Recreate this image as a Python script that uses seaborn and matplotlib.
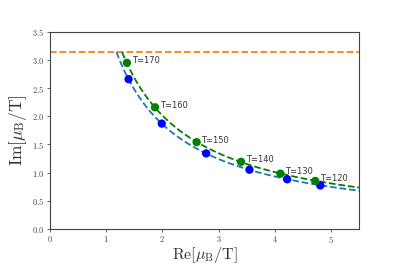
import numpy as np
import pandas as pd
import seaborn as sns
import matplotlib.pyplot as plt
from matplotlib.ticker import FuncFormatter

# values
temps = [170, 160, 150, 140, 130, 120]
re_green = [1.37, 1.87, 2.61, 3.40, 4.10, 4.72]
im_green = [2.95, 2.16, 1.54, 1.19, 0.98, 0.85]
re_blue = [1.40, 1.99, 2.78, 3.55, 4.22, 4.81]
im_blue = [2.66, 1.87, 1.34, 1.05, 0.88, 0.77]
im_limit = np.pi
x_max = 5.5

sns.set_style("ticks")
plt.rcParams['mathtext.fontset'] = 'cm'
plt.rcParams['font.family'] = ['DejaVu Sans']

green = pd.DataFrame({'re': re_green, 'im': im_green, 'T': temps})
blue = pd.DataFrame({'re': re_blue, 'im': im_blue, 'T': temps})

# fitted curves Im = c / Re, c taken from the points
def hyper_fit(df):
    c = np.mean(df['re'] * df['im'])
    xs = np.linspace(c / im_limit, x_max, 200)
    return pd.DataFrame({'re': xs, 'im': c / xs})

fit_green = hyper_fit(green)
fit_blue = hyper_fit(blue)

fig, ax = plt.subplots(figsize=(3.99, 2.66), dpi=100)
fig.subplots_adjust(left=0.125, right=0.9, bottom=0.14, top=0.88)

ax.axhline(im_limit, color='tab:orange', ls='--', lw=1.3)
sns.lineplot(data=fit_blue, x='re', y='im', color='tab:blue', ls='--', lw=1.3, ax=ax)
sns.lineplot(data=fit_green, x='re', y='im', color='green', ls='--', lw=1.3, ax=ax)
sns.scatterplot(data=blue, x='re', y='im', color='blue', s=36, edgecolor='none', ax=ax, zorder=3)
sns.scatterplot(data=green, x='re', y='im', color='green', s=36, edgecolor='none', ax=ax, zorder=3)

for _, r in green.iterrows():
    ax.annotate(f"T={int(r['T'])}", (r['re'], r['im']), xytext=(3.5, 1.5),
                textcoords='offset points', fontsize=6, color='#333333', va='center')

ax.set_xlim(0, x_max)
ax.set_ylim(0, 3.5)
ax.set_xticks([0, 1, 2, 3, 4, 5])
ax.set_yticks(np.arange(0, 3.51, 0.5))
ax.xaxis.set_major_formatter(FuncFormatter(lambda v, p: f"${v:g}$"))
ax.yaxis.set_major_formatter(FuncFormatter(lambda v, p: f"${v:.1f}$"))
ax.tick_params(labelsize=6, length=2.5, width=0.6, pad=1.5, colors='#444444')
for s in ax.spines.values():
    s.set_linewidth(0.8)
    s.set_color('#444444')

ax.set_xlabel(r"$\mathrm{Re}[\mu_\mathrm{B}/\mathrm{T}]$", fontsize=11.5, color='#333333', labelpad=0)
ax.set_ylabel(r"$\mathrm{Im}[\mu_\mathrm{B}/\mathrm{T}]$", fontsize=12.5, color='#333333', labelpad=2)

fig.savefig('out.png', dpi=100)
